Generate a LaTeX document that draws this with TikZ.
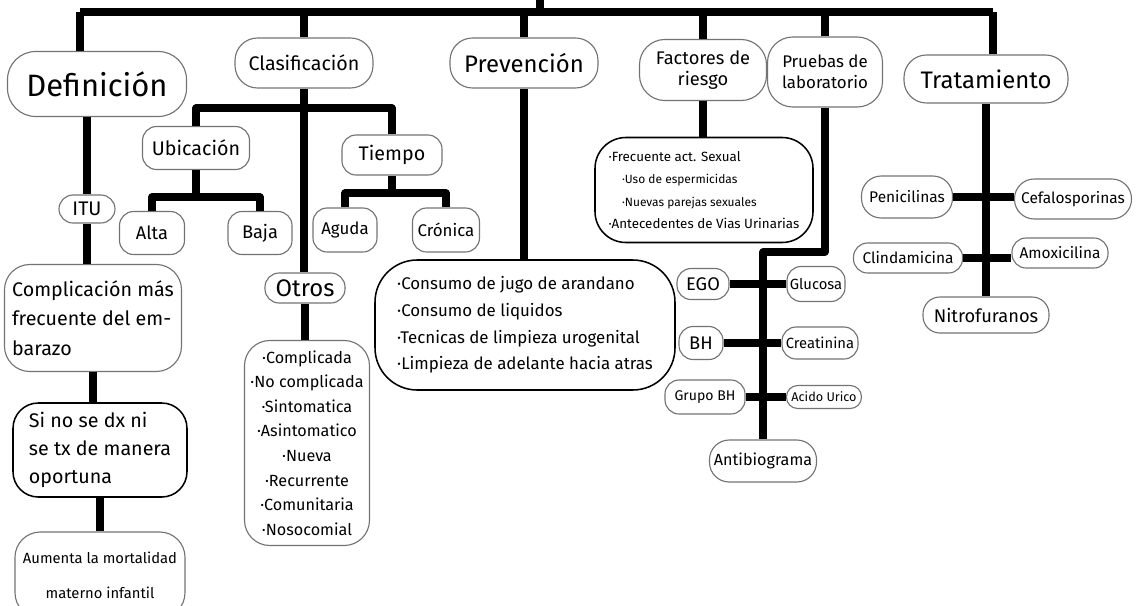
\documentclass[tikz,border=0pt]{standalone}
\usepackage{fontspec}
\setmainfont{Fira Sans}
\usepackage{tikz}
\colorlet{edgec}{black!55}
\newcommand{\fsize}[2]{\fontsize{#1}{#2}\selectfont}
\tikzstyle{box} = [
  draw=edgec,
  line width=0.8pt,
  rounded corners=10pt,
  inner sep=2pt,
  align=center,
]
\tikzstyle{boldbox} = [box, draw=black, line width=1.1pt]
\tikzstyle{link} = [line width=5pt, line join=round]

\begin{document}
\begin{tikzpicture}[
    x=0.025cm, y=-0.025cm,
    sz/.style 2 args={minimum width=#1*\px, minimum height=#2*\px}
  ]
    \def\px{0.025cm}

    \useasboundingbox (0,0) rectangle (1137,605);
    \clip (0,0) rectangle (1137,605);

    % Top level
    \node[box, sz={179}{65}, rounded corners=20pt, font=\fsize{22}{24}] (def) at (97,84) {Definición};
    \node[box, sz={138}{50}, rounded corners=16pt, font=\fsize{14}{16}] (cla) at (304,63) {Clasificación};
    \node[box, sz={148}{50}, rounded corners=16pt, font=\fsize{17}{18}] (pre) at (524,63) {Prevención};
    \node[box, sz={127}{61}, rounded corners=18pt, font=\fsize{13}{15}] (fac) at (703,70) {Factores de\\riesgo};
    \node[box, sz={115}{70}, rounded corners=18pt, font=\fsize{12}{15}] (pru) at (825,72) {Pruebas de\\laboratorio};
    \node[box, sz={164}{48}, rounded corners=16pt, font=\fsize{17}{18}] (tra) at (986,79) {Tratamiento};

    % Definicion
    \node[box, sz={56}{28}, font=\fsize{14}{16}] (itu) at (87,209) {ITU};
    \node[box, sz={177}{107}, rounded corners=18pt, align=left, font=\fsize{14}{21}] (compl) at (93,318)
      {Complicación más\\frecuente del em-\\barazo};
    \node[boldbox, sz={174}{94}, rounded corners=18pt, align=left, font=\fsize{14}{20}] (sino) at (100,450)
      {Si no se dx ni\\se tx de manera\\oportuna};
    \node[box, sz={170}{86}, rounded corners=18pt, font=\fsize{10.5}{25}] (aum) at (100,575)
      {Aumenta la mortalidad\\materno infantil};

    % Clasificacion
    \node[box, sz={107}{43}, font=\fsize{14}{16}] (ubi) at (196,148) {Ubicación};
    \node[box, sz={65}{43}, font=\fsize{13}{15}] (alta) at (152,233) {Alta};
    \node[box, sz={64}{43}, font=\fsize{13}{15}] (baja) at (260,233) {Baja};
    \node[box, sz={100}{40}, font=\fsize{14}{16}] (tie) at (392,155) {Tiempo};
    \node[box, sz={64}{44}, font=\fsize{12}{14}] (agu) at (345,230) {Aguda};
    \node[box, sz={67}{44}, font=\fsize{12}{14}] (cro) at (446,230) {Crónica};
    \node[box, sz={80}{30}, font=\fsize{17}{18}] (otr) at (305,288) {Otros};
    \node[box, sz={125}{205}, rounded corners=18pt, font=\fsize{11.5}{17.5}] (otrl) at (307,443)
      {·Complicada\\·No complicada\\·Sintomatica\\·Asintomatico\\·Nueva\\·Recurrente\\·Comunitaria\\·Nosocomial};

    % Prevencion
    \node[boldbox, sz={300}{130}, rounded corners=30pt, align=left, font=\fsize{12}{19}] (prel) at (525,325)
      {·Consumo de jugo de arandano\\·Consumo de liquidos\\·Tecnicas de limpieza urogenital\\·Limpieza de adelante hacia atras};

    % Factores de riesgo
    \node[boldbox, sz={218}{105}, rounded corners=22pt, align=left, font=\fsize{9.5}{16}] (facl) at (704,190)
      {·Frecuente act. Sexual\\
       \quad{\fsize{8.5}{16}·Uso de espermicidas}\\
       \quad{\fsize{8.5}{16}·Nuevas parejas sexuales}\\
       ·Antecedentes de Vias Urinarias};

    % Pruebas de laboratorio
    \node[box, sz={52}{31}, font=\fsize{13}{15}] (ego) at (703,284) {EGO};
    \node[box, sz={53}{35}, font=\fsize{10.5}{12}] (glu) at (816,284) {Glucosa};
    \node[box, sz={44}{33}, font=\fsize{13}{15}] (bh) at (701,343) {BH};
    \node[box, sz={76}{32}, font=\fsize{10.5}{12}] (cre) at (820,343) {Creatinina};
    \node[box, sz={80}{34}, font=\fsize{10}{12}] (gbh) at (705,397) {Grupo BH};
    \node[box, sz={75}{23}, rounded corners=8pt, font=\fsize{9}{10}] (aci) at (824,397) {Acido Urico};
    \node[box, sz={107}{42}, rounded corners=14pt, font=\fsize{11.5}{13}] (ant) at (763,461) {Antibiograma};

    % Tratamiento
    \node[box, sz={91}{42}, rounded corners=14pt, font=\fsize{11}{13}] (pen) at (907,197) {Penicilinas};
    \node[box, sz={117}{40}, rounded corners=14pt, font=\fsize{11}{13}] (cef) at (1073,199) {Cefalosporinas};
    \node[box, sz={109}{30}, font=\fsize{11}{13}] (cli) at (908,258) {Clindamicina};
    \node[box, sz={96}{30}, font=\fsize{11}{13}] (amo) at (1060,253) {Amoxicilina};
    \node[box, sz={126}{36}, rounded corners=12pt, font=\fsize{13}{15}] (nit) at (986,315) {Nitrofuranos};

    % Top bar
    \coordinate (root) at (540,0);
    \coordinate (busL) at (80,12);
    \coordinate (busR) at (993,12);
    \draw[link] (busL) -- (busR);
    \draw[link] (root) -- (root |- busL);
    \draw[link] (busL) -- (busL |- def.north);
    \draw[link] (cla.north) -- (cla.north |- busL);
    \draw[link] (pre.north) -- (pre.north |- busL);
    \draw[link] (fac.north) -- (fac.north |- busL);
    \draw[link] (pru.north) -- (pru.north |- busL);
    \draw[link] (busR) -- (busR |- tra.north);

    % Links under Definicion
    \draw[link] (itu.north |- def.south) -- (itu.north);
    \draw[link] (itu.south) -- (itu.south |- compl.north);
    \draw[link] (compl.south) -- (compl.south |- sino.north);
    \draw[link] (sino.south) -- (sino.south |- aum.north);

    % Links under Clasificacion
    \draw[link] (cla.south) -- (cla.south |- otr.north);
    \draw[link] (ubi.north) |- (tie.north |- 0,108) -- (tie.north);
    \draw[link] (ubi.south) -- (ubi.south |- 0,197);
    \draw[link] (alta.north) |- (baja.north |- 0,197) -- (baja.north);
    \draw[link] (tie.south) -- (tie.south |- 0,193);
    \draw[link] (agu.north) |- (cro.north |- 0,193) -- (cro.north);
    \draw[link] (otr.south) -- (otr.south |- otrl.north);

    % Links under the other heads
    \draw[link] (pre.south) -- (pre.south |- prel.north);
    \draw[link] (fac.south) -- (fac.south |- facl.north);
    \draw[link] (pru.south) |- (ant.north |- 0,252) -- (ant.north);
    \draw[link] (ego.east) -- (ego.east -| glu.west);
    \draw[link] (bh.east) -- (bh.east -| cre.west);
    \draw[link] (gbh.east) -- (gbh.east -| aci.west);
    \draw[link] (tra.south) -- (nit.north);
    \draw[link] (pen.east) -- (pen.east -| cef.west);
    \draw[link] (cli.east) -- (cli.east -| amo.west);
  \end{tikzpicture}
\end{document}
